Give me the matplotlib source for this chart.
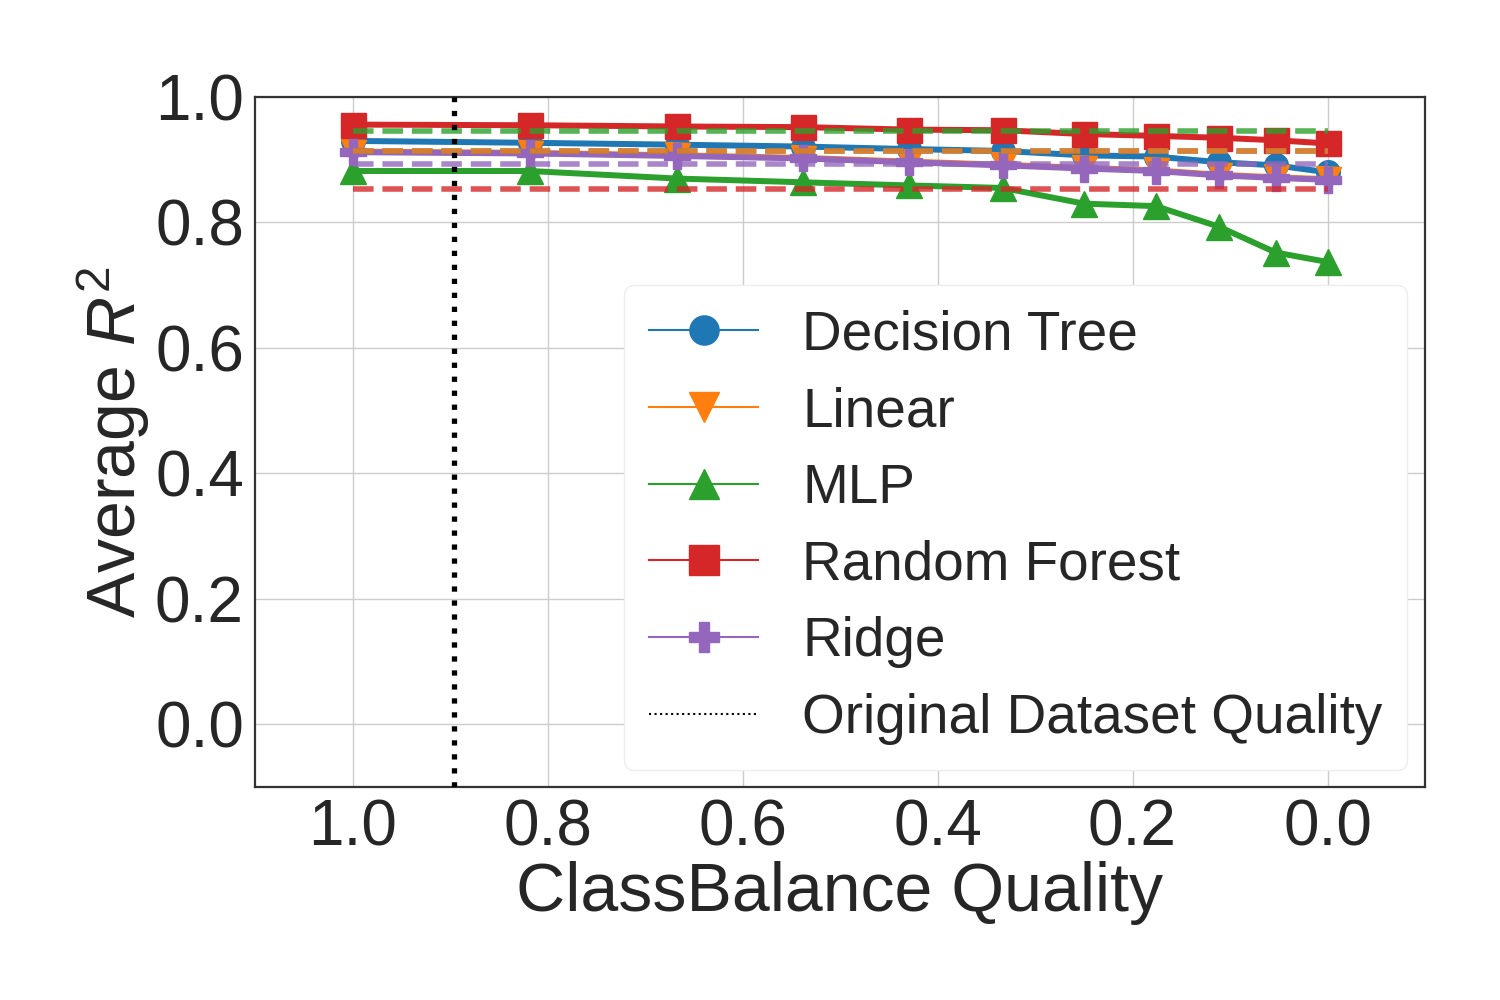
import matplotlib
matplotlib.use("Agg")
import matplotlib.pyplot as plt
from matplotlib.lines import Line2D

plt.rcParams['font.family'] = ['Liberation Sans', 'DejaVu Sans']
plt.rcParams['mathtext.fontset'] = 'custom'
plt.rcParams['mathtext.rm'] = 'Liberation Sans'
plt.rcParams['mathtext.it'] = 'Liberation Sans:italic'

# ---- data ----
quality = [1.0, 0.818, 0.667, 0.538, 0.429, 0.333, 0.25, 0.176, 0.111, 0.053, 0.0]
decision_tree = [0.930, 0.927, 0.924, 0.921, 0.917, 0.914, 0.907, 0.905, 0.896, 0.891, 0.880]
linear = [0.913, 0.911, 0.907, 0.903, 0.897, 0.892, 0.887, 0.883, 0.876, 0.872, 0.869]
mlp = [0.882, 0.882, 0.870, 0.864, 0.859, 0.855, 0.830, 0.826, 0.793, 0.752, 0.737]
random_forest = [0.956, 0.955, 0.953, 0.952, 0.948, 0.947, 0.941, 0.938, 0.935, 0.931, 0.926]
ridge = [0.912, 0.910, 0.906, 0.902, 0.896, 0.891, 0.886, 0.882, 0.875, 0.871, 0.868]

model_names = ["Decision Tree", "Linear", "MLP", "Random Forest", "Ridge"]
baselines = [0.914, 0.914, 0.946, 0.853, 0.893]
original_quality = 0.896

x_ticks = [1.0, 0.8, 0.6, 0.4, 0.2, 0.0]
y_ticks = [0.0, 0.2, 0.4, 0.6, 0.8, 1.0]

colors = ["#1f77b4", "#ff7f0e", "#2ca02c", "#d62728", "#9467bd"]
markers = ["o", "v", "^", "s", "P"]
msizes = [17, 18, 19, 18, 19]
series = [decision_tree, linear, mlp, random_forest, ridge]

fig = plt.figure(figsize=(15, 10), dpi=100)
ax = fig.add_axes([0.17, 0.213, 0.78, 0.69])

for vals, c, m, ms in zip(series, colors, markers, msizes):
    ax.plot(quality, vals, color=c, marker=m, markersize=ms, lw=4.3, zorder=3)

for b, c in zip(baselines, colors):
    ax.plot([quality[0], quality[-1]], [b, b], color=c, ls='--', lw=4.0, alpha=0.8, zorder=4)

ax.axvline(original_quality, color='black', ls=':', lw=3.8, zorder=5)

ax.set_xlim(1.1, -0.1)
ax.set_ylim(-0.1, 1.0)
ax.set_xticks(x_ticks)
ax.set_yticks(y_ticks)
ax.set_xticklabels([f"{v:.1f}" for v in x_ticks])
ax.set_yticklabels([f"{v:.1f}" for v in y_ticks])
ax.tick_params(axis='both', length=0, labelsize=46, labelcolor='#262626', pad=8)
ax.grid(True, color='#cccccc', lw=1.0)
ax.set_axisbelow(True)
for s in ax.spines.values():
    s.set_color('#333333')
    s.set_linewidth(1.6)

ax.set_xlabel("ClassBalance Quality", fontsize=49, color='#262626', labelpad=2)
ax.set_ylabel("Average $R^2$", fontsize=49, color='#262626', labelpad=2)

handles = [Line2D([], [], color=c, marker=m, markersize=21, lw=1.5)
           for c, m in zip(colors, markers)]
handles.append(Line2D([], [], color='black', ls=':', lw=1.5))
labels = model_names + ["Original Dataset Quality"]
leg = ax.legend(handles, labels, loc='lower right', bbox_to_anchor=(0.985, 0.025),
                borderaxespad=0.0,
                fontsize=39.5, handlelength=2.0, labelspacing=0.45, borderpad=0.45,
                handletextpad=0.8, frameon=True, fancybox=True, framealpha=1.0,
                edgecolor='#eeeeee')
for t in leg.get_texts():
    t.set_color('#262626')

fig.savefig("out.png", dpi=100)
